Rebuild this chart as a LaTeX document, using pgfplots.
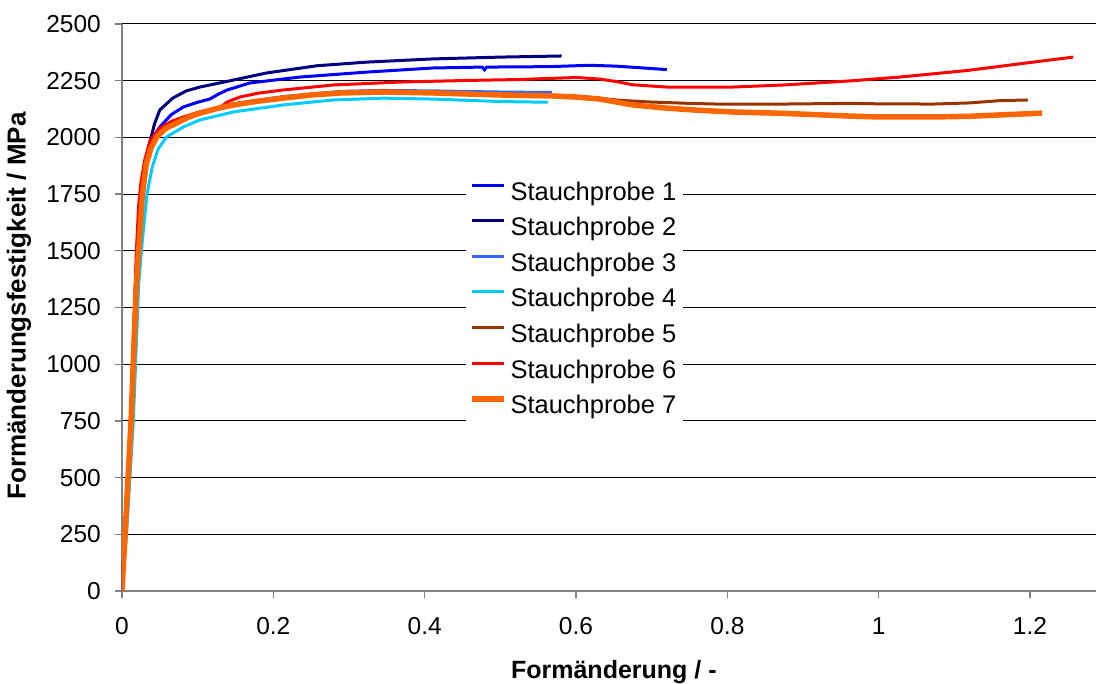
\documentclass[border=0pt]{standalone}
\usepackage{pgfplots}
\pgfplotsset{compat=1.18}
\usepackage{fontspec}
\setmainfont{Liberation Sans}
\definecolor{sA}{HTML}{0000FF}
\definecolor{sB}{HTML}{000080}
\definecolor{sC}{HTML}{3366FF}
\definecolor{sD}{HTML}{00CCFF}
\definecolor{sE}{HTML}{993300}
\definecolor{sF}{HTML}{FF0000}
\definecolor{sG}{HTML}{FF6600}
\begin{document}
\begin{tikzpicture}
\path[use as bounding box] (-122pt,-93pt) rectangle (974pt,591pt);
\begin{axis}[
  at={(0pt,0pt)}, anchor=south west,
  scale only axis, width=974pt, height=567pt,
  xmin=0, xmax=1.2872, ymin=0, ymax=2500,
  axis x line*=bottom, axis y line*=left,
  axis line style={draw=gray, line width=1.3pt},
  xtick={0,0.2,0.4,0.6,0.8,1,1.2},
  xticklabels={0,0.2,0.4,0.6,0.8,1,1.2},
  ytick={0,250,500,750,1000,1250,1500,1750,2000,2250,2500},
  yticklabels={0,250,500,750,1000,1250,1500,1750,2000,2250,2500},
  ymajorgrids, major grid style={black, line width=1pt},
  tick align=outside, major tick length=7pt,
  tick style={gray, line width=1.3pt},
  tick label style={font=\fontsize{24.5}{28}\selectfont},
  yticklabel style={anchor=east, inner sep=0pt, xshift=-14pt},
  xticklabel style={anchor=north, inner sep=0pt, yshift=-19pt},
  xlabel={\bfseries Formänderung / -},
  ylabel={\bfseries Formänderungsfestigkeit / MPa},
  every axis x label/.style={at={(axis description cs:0.505,-0.1552)}, anchor=base, font=\fontsize{25}{30}\selectfont},
  every axis y label/.style={at={(axis description cs:-0.1057,0.5026)}, rotate=90, anchor=center, font=\fontsize{26}{30}\selectfont},
  legend image code/.code={\draw[#1] (0pt,8.5pt) -- (32pt,8.5pt);},
  legend cell align=left,
  legend style={at={(rel axis cs:0.353,0.732)}, anchor=north west, draw=none, fill=white,
    font=\fontsize{25.5}{30}\selectfont, inner xsep=3pt, inner ysep=6pt,
    row sep=12.6pt, column sep=0pt,
    nodes={inner ysep=0pt, inner xsep=4pt, text height=18pt, text depth=5pt}},
]
\addplot[sA, line width=3pt] coordinates {
(0,0) (0.005,320) (0.012,800) (0.018,1350) (0.022,1600) (0.027,1780) (0.032,1880)
(0.037,1960) (0.043,2010) (0.05,2046) (0.065,2100) (0.081,2134) (0.1,2155) (0.116,2169)
(0.127,2190) (0.139,2209) (0.169,2240) (0.235,2266) (0.324,2288) (0.411,2306) (0.476,2310)
(0.479,2298) (0.482,2310) (0.566,2312) (0.618,2318) (0.654,2314) (0.72,2299)};
\addlegendentry{Stauchprobe 1}
\addplot[sB, line width=3pt] coordinates {
(0,0) (0.005,320) (0.012,800) (0.018,1350) (0.022,1600) (0.027,1790) (0.032,1900)
(0.037,1980) (0.043,2060) (0.05,2121) (0.067,2173) (0.085,2205) (0.103,2222) (0.139,2247)
(0.191,2284) (0.258,2316) (0.324,2332) (0.411,2346) (0.5,2354) (0.581,2359)};
\addlegendentry{Stauchprobe 2}
\addplot[sC, line width=3pt] coordinates {
(0,0) (0.005,260) (0.013,760) (0.02,1350) (0.024,1580) (0.028,1760) (0.033,1880)
(0.039,1950) (0.047,2005) (0.06,2045) (0.075,2070) (0.103,2110) (0.147,2147) (0.213,2180)
(0.29,2203) (0.345,2207) (0.411,2205) (0.5,2200) (0.568,2198)};
\addlegendentry{Stauchprobe 3}
\addplot[sD, line width=3pt] coordinates {
(0,0) (0.006,250) (0.015,750) (0.022,1350) (0.027,1550) (0.033,1750) (0.04,1870)
(0.048,1950) (0.059,2002) (0.081,2046) (0.103,2077) (0.147,2112) (0.213,2143) (0.279,2165)
(0.345,2173) (0.411,2169) (0.5,2158) (0.563,2155)};
\addlegendentry{Stauchprobe 4}
\addplot[sE, line width=3pt] coordinates {
(0,0) (0.005,300) (0.012,780) (0.018,1300) (0.022,1550) (0.026,1750) (0.031,1880)
(0.037,1955) (0.045,2005) (0.058,2045) (0.072,2068) (0.103,2110) (0.147,2147) (0.213,2178)
(0.29,2200) (0.345,2205) (0.411,2200) (0.5,2190) (0.566,2186) (0.62,2176) (0.66,2163)
(0.698,2156) (0.75,2150) (0.786,2147) (0.874,2147) (0.962,2150) (1.0,2148) (1.072,2147)
(1.12,2152) (1.16,2162) (1.197,2165)};
\addlegendentry{Stauchprobe 5}
\addplot[sF, line width=3pt] coordinates {
(0,0) (0.004,280) (0.011,750) (0.017,1300) (0.019,1500) (0.022,1700) (0.025,1800)
(0.03,1900) (0.037,1985) (0.05,2040) (0.065,2070) (0.081,2090) (0.1,2110) (0.125,2130)
(0.133,2140) (0.139,2156) (0.156,2178) (0.18,2195) (0.213,2209) (0.279,2231) (0.367,2244)
(0.456,2251) (0.522,2255) (0.601,2264) (0.632,2257) (0.655,2245) (0.675,2232) (0.72,2222)
(0.807,2222) (0.874,2231) (0.962,2249) (1.028,2266) (1.117,2295) (1.183,2323) (1.257,2354)};
\addlegendentry{Stauchprobe 6}
\addplot[sG, line width=5.5pt] coordinates {
(0,0) (0.004,250) (0.012,750) (0.019,1350) (0.023,1550) (0.027,1750) (0.032,1880)
(0.038,1950) (0.046,2003) (0.058,2040) (0.072,2063) (0.087,2088) (0.103,2107) (0.125,2127)
(0.147,2143) (0.18,2160) (0.213,2173) (0.25,2187) (0.29,2196) (0.345,2200) (0.411,2196)
(0.5,2187) (0.566,2183) (0.6,2178) (0.632,2169) (0.655,2155) (0.675,2143) (0.72,2129)
(0.76,2120) (0.807,2112) (0.874,2106) (0.962,2094) (1.0,2090) (1.072,2090) (1.12,2093)
(1.16,2099) (1.216,2107)};
\addlegendentry{Stauchprobe 7}
\end{axis}
\end{tikzpicture}
\end{document}
